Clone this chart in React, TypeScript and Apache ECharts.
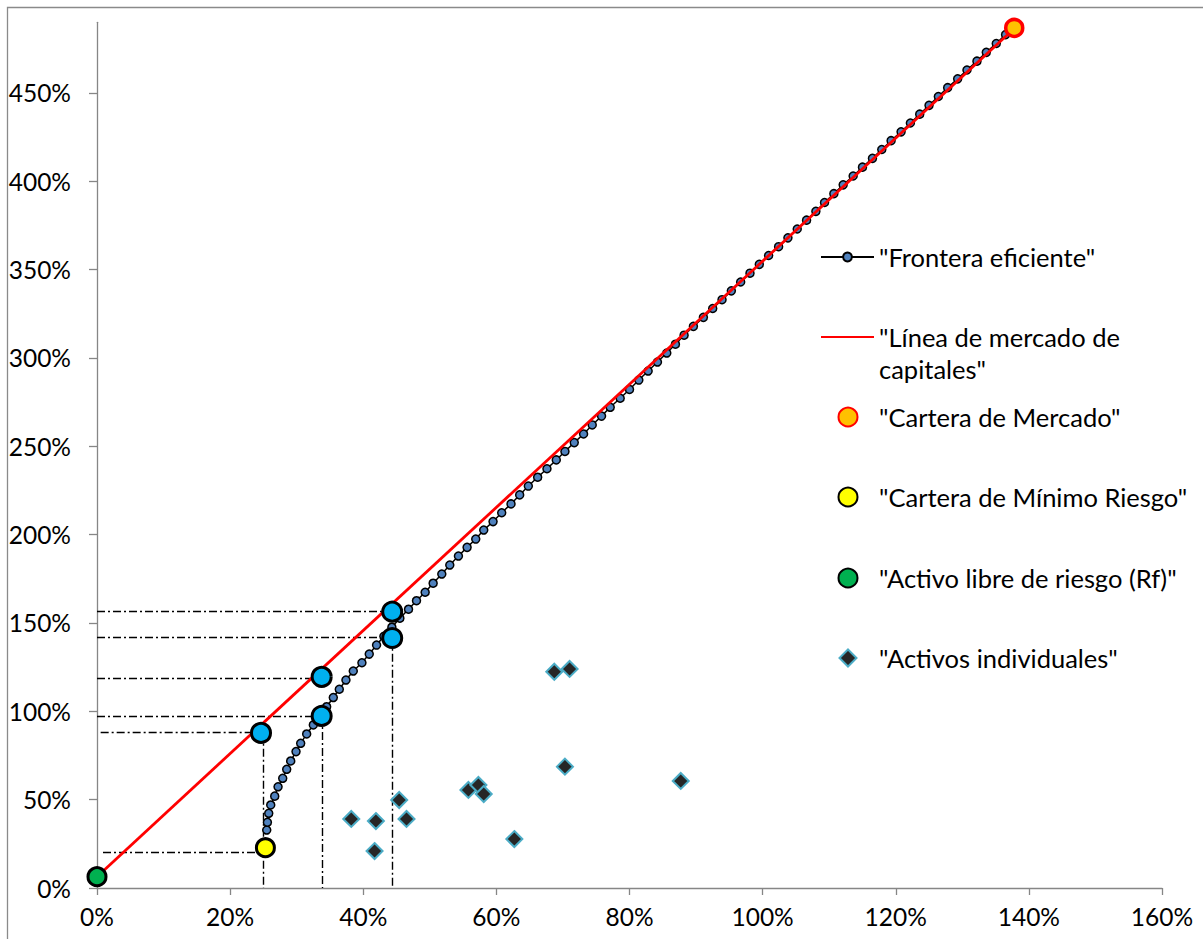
import React, { useEffect, useRef } from "react";
import * as echarts from "echarts";

// ---------- data (percent units) ----------
const xTicks = [0, 20, 40, 60, 80, 100, 120, 140, 160];
const yTicks = [0, 50, 100, 150, 200, 250, 300, 350, 400, 450];

const frontierRisk = [
  25.5, 25.6, 25.8, 26.1, 26.7, 27.2, 27.9, 28.5, 29.1, 29.9, 30.6, 31.5, 32.5, 33.6, 34.5, 35.5,
  36.4, 37.4, 38.5, 39.8, 40.9, 42.0, 43.1, 44.3, 45.5, 46.8, 48.0, 49.3, 50.5, 51.8, 53.0, 54.3,
  55.6, 56.9, 58.1, 59.5, 60.8, 62.2, 63.5, 64.8, 66.2, 67.6, 69.0, 70.3, 71.7, 73.1, 74.4, 75.8,
  77.1, 78.6, 80.0, 81.4, 82.8, 84.2, 85.6, 86.9, 88.2, 89.6, 91.1, 92.5, 93.9, 95.3, 96.7, 98.1,
  99.5, 100.9, 102.4, 103.8, 105.2, 106.6, 108.0, 109.3, 110.7, 112.1, 113.6, 115.0, 116.5, 117.9,
  119.3, 120.8, 122.2, 123.6, 125.0, 126.4, 127.8, 129.3, 130.7, 132.2, 133.6, 135.1, 136.5, 137.8,
];
const frontierReturn = [
  32.8, 37.2, 42.3, 47.0, 52.0, 57.3, 62.1, 67.2, 71.9, 77.2, 81.9, 87.2, 92.3, 97.3, 102.6, 107.8,
  112.5, 117.7, 122.8, 127.5, 132.4, 137.5, 142.5, 147.6, 152.7, 157.8, 162.6, 167.4, 172.5, 177.7,
  182.8, 187.9, 192.8, 197.5, 202.6, 207.4, 212.4, 217.4, 222.5, 227.5, 232.5, 237.3, 242.3, 247.1,
  252.1, 257.0, 262.1, 267.1, 272.1, 277.2, 282.2, 287.5, 292.6, 297.7, 302.8, 307.8, 312.9, 317.9,
  323.0, 328.0, 333.0, 338.0, 343.0, 348.0, 353.0, 358.0, 363.0, 368.0, 373.0, 378.0, 383.0, 388.0,
  393.0, 398.0, 403.0, 408.0, 413.0, 418.0, 423.0, 428.0, 433.0, 438.0, 443.0, 448.0, 453.0, 458.0,
  463.0, 468.0, 473.0, 478.0, 483.0, 487.0,
];

const cmlRisk = [0, 137.8];
const cmlReturn = [6.4, 486.5];

const marketPoint = [137.8, 486.8];
const minRiskPoint = [25.3, 22.8];
const riskFreePoint = [0, 6.4];

const highlightRisk = [44.35, 44.35, 33.75, 33.75, 24.64];
const highlightReturn = [156.4, 141.5, 119.5, 97.4, 87.8];

const assetRisk = [68.7, 71.0, 70.3, 87.7, 55.8, 57.3, 58.1, 45.4, 46.5, 38.2, 41.9, 41.7, 62.7];
const assetReturn = [122.4, 124.0, 68.7, 60.6, 55.5, 58.3, 53.2, 49.8, 39.1, 39.1, 37.9, 20.9, 27.7];

// dash-dot reference lines
const guideHY = [156.6, 141.7, 119.0, 97.4, 87.9, 20.0];
const guideHStart = [0, 0, 0, 0, 0.55, 0.9];
const guideHEnd = [44.35, 44.35, 33.75, 33.75, 24.64, 25.3];
const guideVX = [25.0, 33.9, 44.3];
const guideVTop = [87.9, 97.4, 141.7];

const seriesNames = [
  '"Frontera eficiente"',
  '"Línea de mercado de capitales"',
  '"Cartera de Mercado"',
  '"Cartera de Mínimo Riesgo"',
  '"Activo libre de riesgo (Rf)"',
  '"Activos individuales"',
];
const legendLabels = [
  '"Frontera eficiente"',
  ' \n"Línea de mercado de\ncapitales"',
  '"Cartera de Mercado"',
  '"Cartera de Mínimo Riesgo"',
  '"Activo libre de riesgo (Rf)"',
  '"Activos individuales"',
];
const legendTops = [241, 289, 401, 481, 562, 642];
const legendIcons = [undefined, undefined, "circle", "circle", "circle", "diamond"];

const FONT = "Lato";

function buildOption(): echarts.EChartsOption {
  const guideData = [
    ...guideHY.map((y, i) => ({ coords: [[guideHStart[i], y], [guideHEnd[i], y]] })),
    ...guideVX.map((x, i) => ({ coords: [[x, guideVTop[i]], [x, 0]] })),
  ];

  const legends = seriesNames.map((name, i) => {
    const isLine = i < 2;
    const size = i === 5 ? 17 : 19;
    const lg: any = {
      data: [name],
      left: isLine ? 820 : 847 - size / 2,
      top: legendTops[i],
      orient: "vertical",
      padding: 0,
      itemWidth: isLine ? 53 : size,
      itemHeight: i === 0 ? 11 : i === 1 ? 12 : size,
      itemGap: 5,
      selectedMode: false,
      formatter: () => legendLabels[i],
      textStyle: {
        fontFamily: FONT,
        fontSize: 25.5,
        color: "#000",
        lineHeight: 32,
        padding: isLine ? 0 : [0, 0, 0, 878 - (847 + size / 2) - 5],
      },
    };
    if (legendIcons[i]) lg.icon = legendIcons[i];
    if (i === 1) lg.itemStyle = { opacity: 0 };
    return lg;
  });

  return {
    animation: false,
    backgroundColor: "#fff",
    graphic: [
      {
        type: "rect",
        shape: { x: 7.5, y: 7.5, width: 1400, height: 1200 },
        style: { fill: "none", stroke: "#8a8a8a", lineWidth: 1.3 },
        silent: true,
      },
    ],
    grid: { left: 97, right: 41, top: 22.3, bottom: 51, containLabel: false },
    legend: legends as any,
    xAxis: {
      type: "value",
      min: 0,
      max: 160,
      interval: 20,
      axisLine: { show: true, lineStyle: { color: "#868686", width: 1.3 } },
      axisTick: { show: true, length: 7, lineStyle: { color: "#868686", width: 1.3 } },
      axisLabel: {
        formatter: (v: number) => (xTicks.includes(v) ? `${v}%` : ""),
        fontFamily: FONT,
        fontSize: 24.5,
        color: "#000",
        margin: 16,
      },
      splitLine: { show: false },
    },
    yAxis: {
      type: "value",
      min: 0,
      max: 490,
      interval: 50,
      axisLine: { show: true, lineStyle: { color: "#868686", width: 1.3 } },
      axisTick: {
        show: true,
        length: 8,
        customValues: yTicks,
        lineStyle: { color: "#868686", width: 1.3 },
      } as any,
      axisLabel: {
        customValues: yTicks,
        formatter: (v: number) => (yTicks.includes(v) ? `${v}%` : ""),
        fontFamily: FONT,
        fontSize: 24.5,
        color: "#000",
        margin: 26,
      } as any,
      splitLine: { show: false },
    },
    series: [
      {
        name: "guides",
        type: "lines",
        coordinateSystem: "cartesian2d",
        z: 1,
        silent: true,
        lineStyle: { color: "#000", width: 1.4, type: [8, 3, 2, 3], opacity: 1 },
        data: guideData as any,
      },
      {
        name: seriesNames[0],
        type: "line",
        z: 2,
        data: frontierRisk.map((x, i) => [x, frontierReturn[i]]),
        symbol: "circle",
        symbolSize: 8,
        showSymbol: true,
        lineStyle: { color: "#000", width: 1.5 },
        itemStyle: { color: "#4F81BD", borderColor: "#000", borderWidth: 1.5 },
      },
      {
        name: seriesNames[1],
        type: "line",
        z: 3,
        data: cmlRisk.map((x, i) => [x, cmlReturn[i]]),
        symbol: "none",
        lineStyle: { color: "#FF0000", width: 2.8 },
        itemStyle: { color: "#FF0000" },
      },
      {
        name: seriesNames[5],
        type: "scatter",
        z: 4,
        symbol: "diamond",
        symbolSize: 16,
        data: assetRisk.map((x, i) => [x, assetReturn[i]]),
        itemStyle: { color: "#262626", borderColor: "#4BACC6", borderWidth: 2, opacity: 1 },
      },
      {
        name: "Carteras",
        type: "scatter",
        z: 5,
        symbol: "circle",
        symbolSize: 19,
        data: highlightRisk.map((x, i) => [x, highlightReturn[i]]),
        itemStyle: { color: "#00B0F0", borderColor: "#000", borderWidth: 3, opacity: 1 },
      },
      {
        name: seriesNames[3],
        type: "scatter",
        z: 6,
        symbol: "circle",
        symbolSize: 18,
        data: [minRiskPoint],
        itemStyle: { color: "#FFFF00", borderColor: "#000", borderWidth: 3, opacity: 1 },
      },
      {
        name: seriesNames[4],
        type: "scatter",
        z: 6,
        symbol: "circle",
        symbolSize: 18,
        data: [riskFreePoint],
        itemStyle: { color: "#00B050", borderColor: "#000", borderWidth: 3, opacity: 1 },
      },
      {
        name: seriesNames[2],
        type: "scatter",
        z: 7,
        symbol: "circle",
        symbolSize: 17,
        data: [marketPoint],
        itemStyle: { color: "#FFC000", borderColor: "#FF0000", borderWidth: 3.5, opacity: 1 },
      },
    ] as any,
  };
}

export default function App() {
  const ref = useRef<HTMLDivElement>(null);
  useEffect(() => {
    document.body.style.margin = "0";
    document.body.style.overflow = "hidden";
    const chart = echarts.init(ref.current!, null, { renderer: "svg" });
    chart.setOption(buildOption());
    return () => chart.dispose();
  }, []);
  return <div ref={ref} style={{ width: 1203, height: 939 }} />;
}
